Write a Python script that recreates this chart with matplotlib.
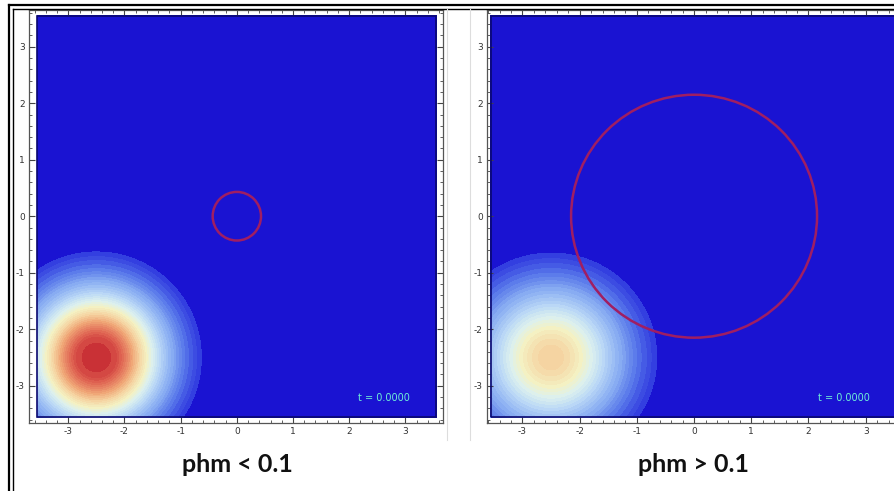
import numpy as np
import matplotlib
matplotlib.use("Agg")
import matplotlib.pyplot as plt
from matplotlib.colors import LinearSegmentedColormap
from matplotlib.patches import Circle, Rectangle
from matplotlib.lines import Line2D
from matplotlib.ticker import MultipleLocator

# ---- data ----
panel_titles = ["phm < 0.1", "phm > 0.1"]
time_labels = ["t = 0.0000", "t = 0.0000"]
blob_center = [-2.5, -2.5]
blob_amplitude = [1.0, 0.62]
blob_sigma = [0.76, 0.82]
circle_radius = [0.43, 2.15]
tick_values = [-3, -2, -1, 0, 1, 2, 3]
field_range = [-3.55, 3.55]
contour_levels = [0.05, 0.065, 0.08, 0.1, 0.12, 0.14, 0.16, 0.18,
                  0.2, 0.225, 0.25, 0.275, 0.3, 0.325, 0.35, 0.375, 0.4, 0.425,
                  0.45, 0.475, 0.5, 0.525, 0.55, 0.575, 0.6, 0.625, 0.65, 0.675,
                  0.7, 0.725, 0.75, 0.775, 0.8, 0.825, 0.85, 0.875, 0.9, 0.95, 1.01]

bg_blue = "#1A13D2"
cmap = LinearSegmentedColormap.from_list("heat", [
    (0.00, "#2828DC"),
    (0.05, "#3440E0"),
    (0.11, "#5878EA"),
    (0.20, "#88ACF2"),
    (0.32, "#B8D6F6"),
    (0.42, "#DCF0EE"),
    (0.50, "#F4F2C4"),
    (0.60, "#F5D4A2"),
    (0.70, "#F0A878"),
    (0.85, "#DE6050"),
    (1.00, "#C01C2A"),
])

W, H = 895, 491
fig = plt.figure(figsize=(W / 100, H / 100), dpi=100)
fig.patch.set_facecolor("white")

boxes = [
    dict(px=(29, 10, 443, 423), xlim=(-3.70, 3.67), ylim=(-3.66, 3.65), title_x=237),
    dict(px=(487, 10, 904, 423), xlim=(-3.62, 3.67), ylim=(-3.66, 3.65), title_x=694),
]

g = np.linspace(field_range[0], field_range[1], 600)
X, Y = np.meshgrid(g, g)

for i, b in enumerate(boxes):
    l, t, r, bt = b["px"]
    ax = fig.add_axes([l / W, 1 - bt / H, (r - l) / W, (bt - t) / H])
    ax.set_xlim(*b["xlim"])
    ax.set_ylim(*b["ylim"])
    R2 = (X - blob_center[0]) ** 2 + (Y - blob_center[1]) ** 2
    Z = blob_amplitude[i] * np.exp(-R2 / (2 * blob_sigma[i] ** 2))
    levels = [-1.0] + contour_levels
    colors = [bg_blue] + [cmap(min(1.0, contour_levels[k]))
                          for k in range(len(contour_levels) - 1)]
    cs = ax.contourf(X, Y, Z, levels=levels, colors=colors)
    cs.set_edgecolor("face")
    cs.set_linewidth(0.6)
    ax.add_patch(Rectangle((field_range[0], field_range[0]),
                           field_range[1] - field_range[0], field_range[1] - field_range[0],
                           fill=False, edgecolor="#0A0870", lw=1.2, zorder=3))
    ax.add_patch(Circle((0, 0), circle_radius[i], fill=False,
                        edgecolor="#A01E62", lw=1.8, zorder=4))
    ax.text(2.62, -3.22, time_labels[i], color="#6FF0D8", fontsize=7,
            ha="center", va="center", family="DejaVu Sans", zorder=5)

    ax.xaxis.set_minor_locator(MultipleLocator(0.2))
    ax.yaxis.set_minor_locator(MultipleLocator(0.2))
    ax.set_xticks(tick_values)
    ax.set_yticks(tick_values)
    ax.set_xticklabels([("-" if v < 0 else "") + str(abs(v)) for v in tick_values])
    ax.set_yticklabels([("-" if v < 0 else "") + str(abs(v)) for v in tick_values])
    ax.tick_params(which="both", direction="in", top=True, right=True,
                   color="#444444", labelsize=6.5, labelcolor="#333333", pad=3)
    ax.tick_params(which="major", length=4, width=0.8)
    ax.tick_params(which="minor", length=2, width=0.6)
    for s in ax.spines.values():
        s.set_color("#555555")
        s.set_linewidth(0.9)

    fig.text(b["title_x"] / W, 1 - 465 / H, panel_titles[i], fontsize=18,
             fontweight="bold", ha="center", va="center",
             family="Lato", color="#111111")

def fline(x0, y0, x1, y1, **kw):
    fig.add_artist(Line2D([x0 / W, x1 / W], [1 - y0 / H, 1 - y1 / H], **kw))

fline(9, 5, W, 5, color="black", lw=1.6)
fline(13, 9, W, 9, color="black", lw=1.0)
fline(9, 5, 9, H, color="black", lw=1.6)
fline(13, 9, 13, H, color="black", lw=1.0)
fline(447, 9, 447, 440, color="#DDDDDD", lw=0.8)
fline(470, 9, 470, 440, color="#DDDDDD", lw=0.8)

fig.savefig("out.png", dpi=100)
